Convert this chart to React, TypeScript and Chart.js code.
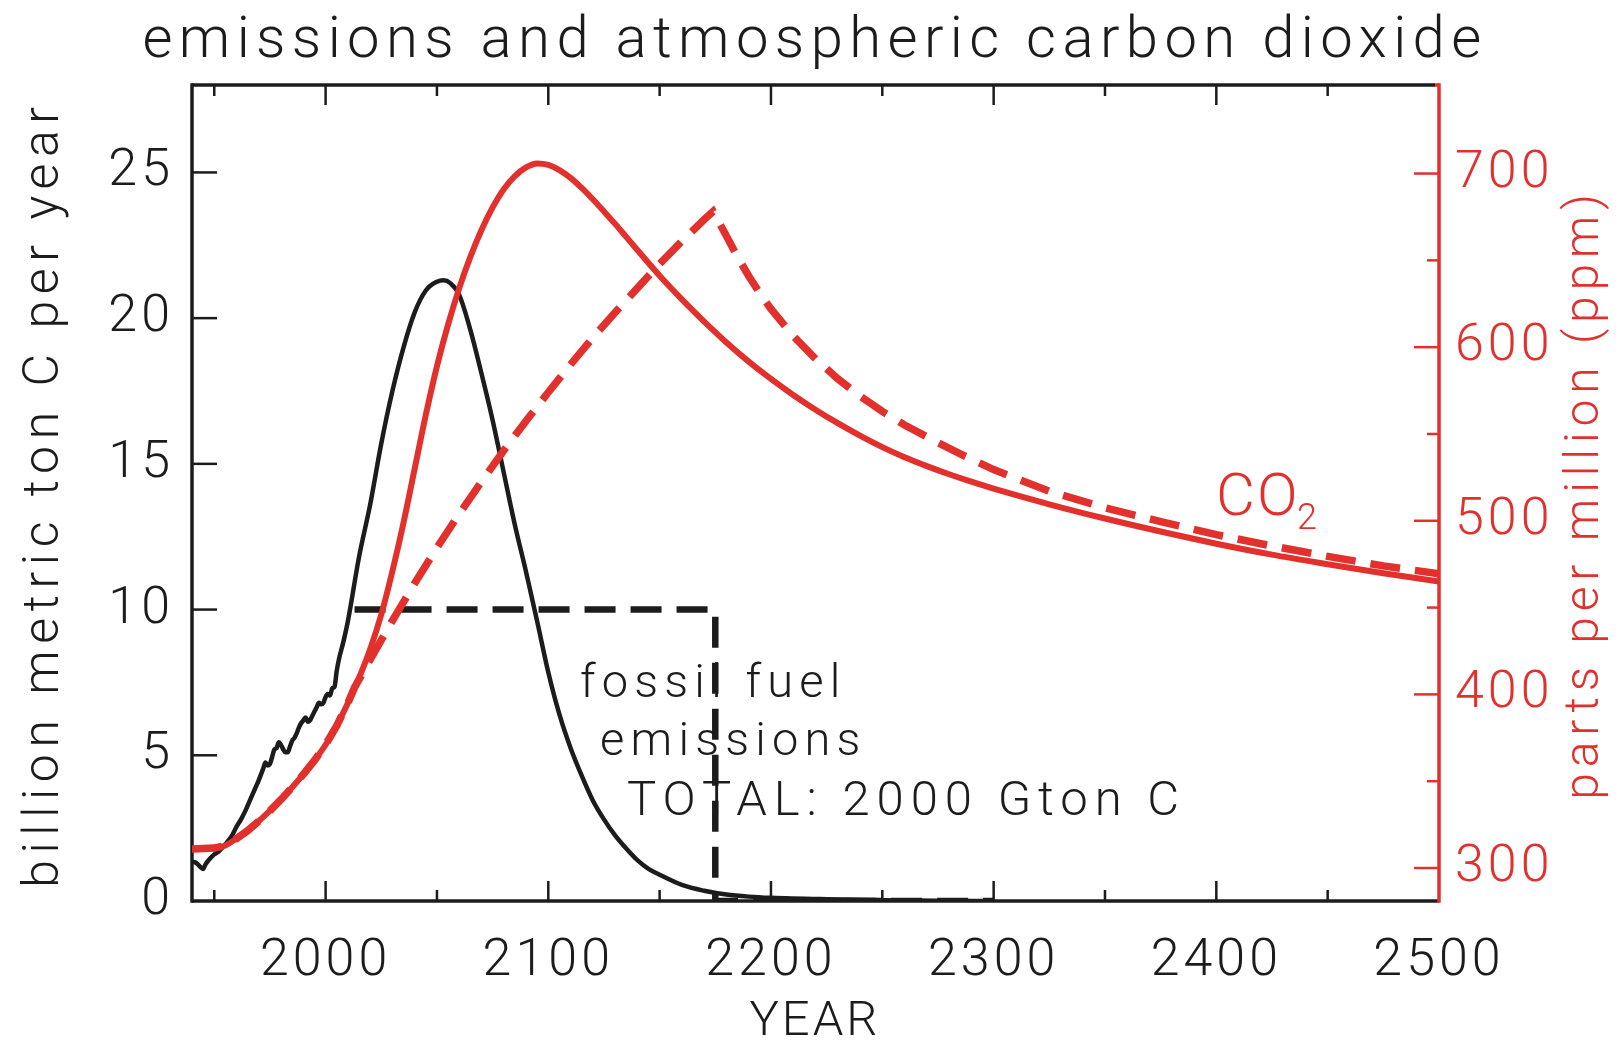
import React, { useEffect, useRef } from 'react';
import { Chart, registerables } from 'chart.js';

Chart.register(...registerables);

// ---------- data ----------
const emissionYears = [1940, 1942, 1944, 1945, 1946, 1948, 1950, 1952, 1955, 1958,
  1960, 1962, 1964, 1966, 1968, 1970, 1972, 1973, 1974, 1975,
  1976, 1977, 1978, 1979, 1980, 1981, 1982, 1983, 1984, 1985,
  1986, 1987, 1988, 1989, 1990, 1991, 1992, 1993, 1994, 1995,
  1996, 1997, 1998, 1999, 2000, 2001, 2002, 2003, 2004, 2005,
  2006, 2008, 2010, 2015, 2020, 2025, 2030, 2035, 2040, 2045,
  2050, 2053, 2056, 2060, 2065, 2070, 2075, 2080, 2085, 2090,
  2095, 2100, 2105, 2110, 2115, 2120, 2125, 2130, 2135, 2140,
  2145, 2150, 2160, 2170, 2180, 2190, 2200, 2225, 2250, 2275,
  2300];
const emissionValues = [1.35, 1.3, 1.15, 1.1, 1.25, 1.45, 1.6, 1.7, 1.95, 2.25,
  2.55, 2.8, 3.1, 3.45, 3.8, 4.15, 4.55, 4.75, 4.65, 4.7,
  4.95, 5.2, 5.25, 5.45, 5.35, 5.2, 5.1, 5.1, 5.3, 5.5,
  5.6, 5.75, 5.95, 6.1, 6.2, 6.3, 6.15, 6.2, 6.35, 6.5,
  6.65, 6.8, 6.75, 6.8, 7.0, 7.1, 7.05, 7.3, 7.35, 7.9,
  8.3, 8.9, 9.6, 11.8, 13.6, 15.7, 17.5, 19.0, 20.2, 20.95,
  21.25, 21.3, 21.2, 20.8, 19.6, 18.1, 16.5, 14.7, 12.9, 11.3,
  9.6, 7.85, 6.4, 5.25, 4.3, 3.45, 2.8, 2.25, 1.8, 1.4,
  1.1, 0.9, 0.55, 0.35, 0.22, 0.15, 0.11, 0.06, 0.03, 0.01,
  0];

const stepYears = [2013, 2175, 2175, 2300];
const stepValues = [10, 10, 0, 0];

const co2Years = [1940, 1950, 1955, 1960, 1965, 1970, 1975, 1980, 1985, 1990,
  1995, 2000, 2005, 2010, 2015, 2020, 2025, 2030, 2035, 2040,
  2045, 2050, 2055, 2060, 2065, 2070, 2075, 2080, 2085, 2090,
  2095, 2100, 2105, 2110, 2115, 2120, 2125, 2130, 2135, 2140,
  2145, 2150, 2155, 2160, 2165, 2170, 2180, 2190, 2200, 2210,
  2220, 2230, 2240, 2250, 2260, 2270, 2280, 2290, 2300, 2325,
  2350, 2375, 2400, 2425, 2450, 2475, 2500];
const co2Values = [311, 311.5, 313, 317, 321.5, 327, 333, 339.5, 346.5, 354,
  362, 371, 382, 395, 409.5, 426, 446, 471, 499, 530,
  561, 589, 613, 634, 652, 667.5, 680.5, 691, 698.5, 703.5,
  705.8, 705, 702, 697.5, 691.7, 685.2, 678.2, 671, 663.5, 656,
  648.5, 641.2, 634.2, 627.5, 621, 614.7, 602.7, 591.7, 581.7, 572.5,
  564, 556.2, 549, 542.4, 536.6, 531.5, 526.8, 522.5, 518.5, 509.5,
  501.3, 493.8, 486.8, 480.5, 475, 469.8, 465];

const co2StepYears = [1940, 1950, 1955, 1960, 1965, 1970, 1975, 1980, 1985, 1990,
  1995, 2000, 2005, 2010, 2013, 2020, 2030, 2040, 2050, 2060,
  2070, 2080, 2090, 2100, 2110, 2120, 2130, 2140, 2150, 2160,
  2170, 2174, 2180, 2185, 2190, 2195, 2200, 2210, 2220, 2230,
  2240, 2250, 2260, 2275, 2285, 2300, 2325, 2350, 2375, 2400,
  2425, 2450, 2475, 2500];
const co2StepValues = [311, 311.5, 313, 317, 321.5, 327, 333, 339.5, 346.5, 354,
  362, 371, 382, 395, 404, 420, 442.5, 464, 484.5, 504,
  522.5, 540.5, 557.5, 574, 590, 605.5, 620, 634, 648, 661,
  673.5, 678.2, 664, 652, 641, 631, 622, 606.5, 593.3, 581.8,
  571.8, 563, 555.2, 545, 538.5, 529.5, 517, 507.5, 499.5, 492,
  485.5, 479.5, 474, 469.5];

const yearRange = [1940, 2500];
const emissionRange = [0, 28];
const ppmRange = [281, 751];

const titleText = 'emissions and atmospheric carbon dioxide';
const leftTitle = 'billion metric ton C per year';
const rightTitle = 'parts per million (ppm)';
const bottomTitle = 'YEAR';
const noteLines = ['fossil fuel', 'emissions', 'TOTAL: 2000 Gton C'];
const co2Label = 'CO';
const co2Sub = '2';

// ---------- style ----------
const RED = '#e2302d';
const INK = '#1c1c1c';
const FAMILY = 'Roboto';

function drawText(ctx: CanvasRenderingContext2D, text: string, x: number, y: number, size: number,
  color: string, spacing: number, align: CanvasTextAlign = 'left', rotate = 0) {
  ctx.save();
  ctx.font = `300 ${size}px ${FAMILY}`;
  ctx.fillStyle = color;
  (ctx as any).letterSpacing = `${spacing}px`;
  ctx.textAlign = align;
  ctx.textBaseline = 'alphabetic';
  ctx.translate(x, y);
  if (rotate) ctx.rotate(rotate);
  ctx.fillText(text, 0, 0);
  ctx.restore();
}

function line(ctx: CanvasRenderingContext2D, x1: number, y1: number, x2: number, y2: number, color: string, w: number) {
  ctx.beginPath();
  ctx.strokeStyle = color;
  ctx.lineWidth = w;
  ctx.moveTo(x1, y1);
  ctx.lineTo(x2, y2);
  ctx.stroke();
}

const framePlugin = {
  id: 'frameAndText',
  beforeDraw(chart: any) {
    chart.ctx.letterSpacing = '4px';
  },
  beforeDatasetsDraw(chart: any) {
    const ctx: CanvasRenderingContext2D = chart.ctx;
    const a = chart.chartArea;
    const sx = chart.scales.x;
    const sy = chart.scales.y;
    const sy1 = chart.scales.y1;
    ctx.save();
    ctx.lineCap = 'butt';
    // annotation text
    drawText(ctx, noteLines[0], 580, 697, 47, INK, 6.2);
    drawText(ctx, noteLines[1], 600, 755, 47, INK, 6.2);
    drawText(ctx, noteLines[2], 627, 815, 49, INK, 6.9);
    drawText(ctx, co2Label, 1216, 515, 60, RED, 2);
    drawText(ctx, co2Sub, 1297, 529, 36, RED, 0);

    // ticks on bottom and top
    for (let v = 1950; v < 2500; v += 50) {
      const px = sx.getPixelForValue(v);
      const len = v % 100 === 0 ? 20 : 11;
      line(ctx, px, a.bottom, px, a.bottom - len, INK, 2.5);
      line(ctx, px, a.top, px, a.top + len, INK, 2.5);
    }
    // left ticks
    for (let v = 5; v <= 25; v += 5) {
      const py = sy.getPixelForValue(v);
      line(ctx, a.left, py, a.left + 25, py, INK, 2.5);
    }
    // right ticks
    for (let v = 300; v <= 700; v += 50) {
      const py = sy1.getPixelForValue(v);
      const len = v % 100 === 0 ? 25 : 12;
      line(ctx, a.right, py, a.right - len, py, RED, 2.5);
    }
    // frame
    line(ctx, a.left, a.top, a.right - 4, a.top, INK, 3.5);
    line(ctx, a.left, a.bottom, a.right, a.bottom, INK, 3.5);
    line(ctx, a.left, a.top - 1.75, a.left, a.bottom + 1.75, INK, 3.5);
    line(ctx, a.right - 4, a.top, a.right, a.top, RED, 3.5);
    line(ctx, a.right, a.top - 1.75, a.right, a.bottom + 1.75, RED, 3.5);
    ctx.restore();
  },
  afterDraw(chart: any) {
    const ctx: CanvasRenderingContext2D = chart.ctx;
    drawText(ctx, titleText, 815, 57, 58, INK, 6.4, 'center');
    drawText(ctx, leftTitle, 58, 494, 50, INK, 6.6, 'center', -Math.PI / 2);
    drawText(ctx, rightTitle, 1598, 494, 48, RED, 5.8, 'center', -Math.PI / 2);
    drawText(ctx, bottomTitle, 815, 1035, 49, INK, 3, 'center');
  },
};

const tickFont = { family: FAMILY, size: 52, weight: '300' as any };

export default function App() {
  const canvasRef = useRef<HTMLCanvasElement | null>(null);

  useEffect(() => {
    const canvas = canvasRef.current;
    if (!canvas) return;
    const toXY = (xs: number[], ys: number[]) => xs.map((x, i) => ({ x, y: ys[i] }));
    const chart = new Chart(canvas, {
      type: 'line',
      data: {
        datasets: [
          {
            label: 'CO2 (emissions curve)',
            data: toXY(co2Years, co2Values),
            yAxisID: 'y1',
            borderColor: RED,
            borderWidth: 6,
            pointRadius: 0,
            cubicInterpolationMode: 'monotone',
            order: 0,
          },
          {
            label: 'CO2 (step emissions)',
            data: toXY(co2StepYears, co2StepValues),
            yAxisID: 'y1',
            borderColor: RED,
            borderWidth: 7.5,
            borderDash: [30, 15],
            pointRadius: 0,
            tension: 0,
            order: 1,
          },
          {
            label: 'fossil fuel emissions',
            data: toXY(emissionYears, emissionValues),
            yAxisID: 'y',
            borderColor: INK,
            borderWidth: 4.5,
            pointRadius: 0,
            cubicInterpolationMode: 'monotone',
            order: 2,
          },
          {
            label: 'step emissions',
            data: toXY(stepYears, stepValues),
            yAxisID: 'y',
            borderColor: INK,
            borderWidth: 6.5,
            borderDash: [31, 15],
            pointRadius: 0,
            tension: 0,
            order: 3,
          },
        ] as any,
      },
      options: {
        responsive: false,
        animation: false,
        devicePixelRatio: 1,
        events: [],
        layout: { padding: { top: 85, left: 0, right: 0, bottom: 0 } },
        plugins: {
          legend: { display: false },
          tooltip: { enabled: false },
          title: { display: false },
        },
        scales: {
          x: {
            type: 'linear',
            position: 'bottom',
            min: yearRange[0],
            max: yearRange[1],
            grid: { display: false, drawTicks: false },
            border: { display: false },
            ticks: {
              stepSize: 100,
              includeBounds: false,
              autoSkip: false,
              maxRotation: 0,
              padding: 30,
              color: INK,
              font: tickFont,
              callback: (v: any) => String(v),
            },
            afterFit: (s: any) => { s.height = 139; },
          },
          y: {
            type: 'linear',
            position: 'left',
            min: emissionRange[0],
            max: emissionRange[1],
            grid: { display: false, drawTicks: false },
            border: { display: false },
            ticks: {
              stepSize: 5,
              includeBounds: false,
              autoSkip: false,
              padding: 18,
              color: INK,
              font: tickFont,
              callback: (v: any) => String(v),
            },
            afterFit: (s: any) => { s.width = 192; },
          },
          y1: {
            type: 'linear',
            position: 'right',
            min: ppmRange[0],
            max: ppmRange[1],
            grid: { display: false, drawTicks: false },
            border: { display: false },
            ticks: {
              stepSize: 100,
              includeBounds: false,
              autoSkip: false,
              padding: 16,
              color: RED,
              font: tickFont,
              callback: (v: any) => String(v),
            },
            afterFit: (s: any) => { s.width = 181; },
          },
        },
      } as any,
      plugins: [framePlugin as any],
    });
    return () => chart.destroy();
  }, []);

  return (
    <div style={{ position: 'fixed', left: 0, top: 0, width: 1620, height: 1040, background: '#fff' }}>
      <canvas ref={canvasRef} width={1620} height={1040} style={{ display: 'block' }} />
    </div>
  );
}
